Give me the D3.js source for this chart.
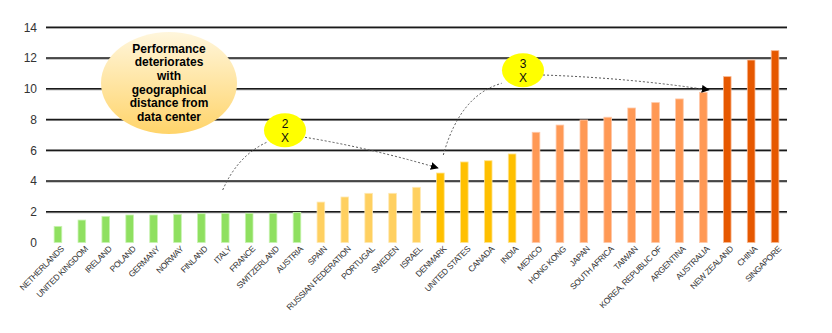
<!DOCTYPE html>
<html><head><meta charset="utf-8">
<script src="https://cdn.jsdelivr.net/npm/d3@7"></script>
<style>body{margin:0;background:#fff}svg{display:block;font-family:Arial,"Liberation Sans",sans-serif}</style>
</head><body><svg id="c" width="832" height="333"></svg>
<script>
const countries = ["NETHERLANDS","UNITED KINGDOM","IRELAND","POLAND","GERMANY","NORWAY","FINLAND","ITALY","FRANCE","SWITZERLAND","AUSTRIA","SPAIN","RUSSIAN FEDERATION","PORTUGAL","SWEDEN","ISRAEL","DENMARK","UNITED STATES","CANADA","INDIA","MEXICO","HONG KONG","JAPAN","SOUTH AFRICA","TAIWAN","KOREA, REPUBLIC OF","ARGENTINA","AUSTRALIA","NEW ZEALAND","CHINA","SINGAPORE"];
const values = [1.05,1.46,1.70,1.79,1.79,1.83,1.87,1.90,1.90,1.90,1.96,2.63,2.96,3.20,3.20,3.59,4.52,5.24,5.32,5.76,7.17,7.64,7.97,8.15,8.75,9.10,9.34,9.77,10.79,11.87,12.48];
const groups = [0,0,0,0,0,0,0,0,0,0,0,1,1,1,1,1,2,2,2,2,3,3,3,3,3,3,3,3,4,4,4];
const groupColors = ["#8fe060","#ffd060","#ffc000","#ff9955","#e65800"];
const groupStrokes = ["#c8f3b0","#ffe8b0","#ffe490","#ffc8a8","#f8b890"];
const yTicks = [0,2,4,6,8,10,12,14];
const noteText = ["Performance","deteriorates","with","geographical","distance from","data center"];
const badges = [{label:["2","X"], at:"ITALY"},{label:["3","X"], at:"DENMARK"}];

const svg = d3.select("#c");
const x = d3.scaleBand().domain(countries).range([46, 787]).paddingInner(0.68).paddingOuter(0.34);
const y = d3.scaleLinear().domain([0,14]).range([242.5, 27.3]);

// gridlines
const grid = svg.append("g");
yTicks.filter(t=>t>0).forEach(t=>{
  grid.append("line").attr("x1",46).attr("x2",787).attr("y1",y(t)+1).attr("y2",y(t)+1).attr("stroke","#999").attr("stroke-width",1);
  grid.append("line").attr("x1",46).attr("x2",787).attr("y1",y(t)).attr("y2",y(t)).attr("stroke","#1a1a1a").attr("stroke-width",1.4);
});

// y axis labels
const ya = svg.append("g").attr("transform","translate(37,0)")
  .call(d3.axisLeft(y).tickValues(yTicks).tickSize(0).tickPadding(0));
ya.select(".domain").remove();
ya.selectAll("text").attr("font-size",12).attr("fill","#333").attr("font-family","Arial, 'Liberation Sans', sans-serif");

// bars
svg.append("g").selectAll("rect").data(countries).join("rect")
  .attr("x",d=>x(d)).attr("width",x.bandwidth())
  .attr("y",(d,i)=>y(values[i])).attr("height",(d,i)=>y(0)-y(values[i]))
  .attr("fill",(d,i)=>groupColors[groups[i]])
  .attr("stroke",(d,i)=>groupStrokes[groups[i]]).attr("stroke-width",0.8);

// x labels
const xa = svg.append("g").attr("transform","translate(0,245)")
  .call(d3.axisBottom(x).tickSize(0).tickPadding(0));
xa.select(".domain").remove();
xa.selectAll("text").attr("font-size",8.4).attr("fill","#333")
  .attr("font-family","Arial, 'Liberation Sans', sans-serif")
  .attr("text-anchor","end").attr("dy","0.6em")
  .attr("transform","translate(3,1) rotate(-45)").attr("letter-spacing",-0.35);

// defs
const defs = svg.append("defs");
const grad = defs.append("linearGradient").attr("id","g1").attr("x1",0).attr("y1",0).attr("x2",0).attr("y2",1);
grad.append("stop").attr("offset","0%").attr("stop-color","#fff6dc");
grad.append("stop").attr("offset","100%").attr("stop-color","#ffd46a");
defs.append("marker").attr("id","arr").attr("viewBox","0 0 10 10").attr("refX",9).attr("refY",5)
  .attr("markerWidth",8).attr("markerHeight",8).attr("orient","auto").attr("markerUnits","userSpaceOnUse")
  .append("path").attr("d","M0,0 L10,5 L0,10 z").attr("fill","#000");

// main note ellipse
svg.append("ellipse").attr("cx",169).attr("cy",83).attr("rx",68).attr("ry",51).attr("fill","url(#g1)");
svg.append("g").selectAll("text").data(noteText).join("text")
  .attr("x",169).attr("y",(d,i)=>48.3+i*13.7).attr("dy","0.35em")
  .attr("text-anchor","middle").attr("font-weight","bold").attr("font-size",12).attr("fill","#000").text(d=>d);

// dashed connectors
const dash = svg.append("g").attr("fill","none").attr("stroke","#555").attr("stroke-width",1).attr("stroke-dasharray","2,2");
dash.append("path").attr("d","M222.7,190 Q238,155 268,141.7");
dash.append("path").attr("d","M305,137.3 Q370,148 438,168").attr("marker-end","url(#arr)");
dash.append("path").attr("d","M443.3,155 Q460,95 501.7,83.3");
dash.append("path").attr("d","M543,75 Q630,78 709,90").attr("marker-end","url(#arr)");

// badges
const badgePos = [{cx:285,cy:130.3},{cx:523,cy:70.3}];
badges.forEach((b,k)=>{
  const p = badgePos[k];
  svg.append("ellipse").attr("cx",p.cx).attr("cy",p.cy).attr("rx",21).attr("ry",17).attr("fill","#ffff00");
  b.label.forEach((t,i)=>{
    svg.append("text").attr("x",p.cx).attr("y",p.cy-6.5+i*13.5).attr("dy","0.35em")
      .attr("text-anchor","middle").attr("font-size",12).attr("fill","#111").text(t);
  });
});
</script></body></html>
